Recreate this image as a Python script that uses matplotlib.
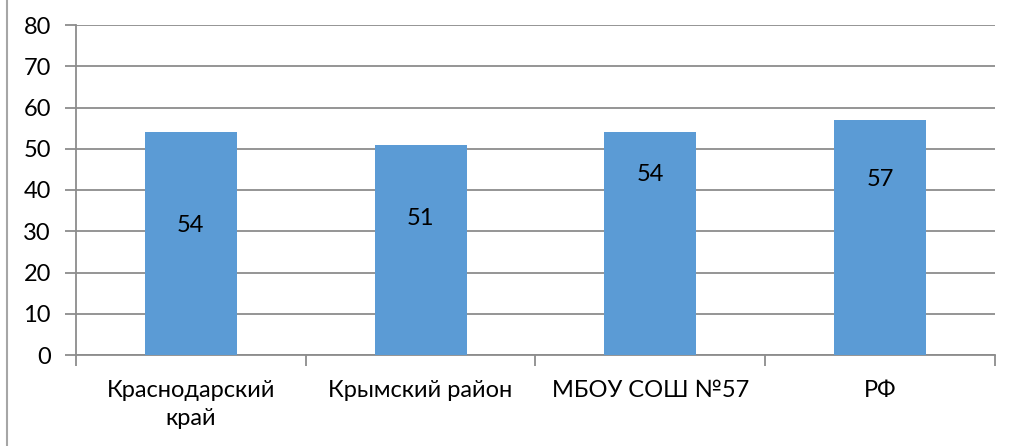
import numpy as np
import matplotlib.pyplot as plt
from matplotlib.lines import Line2D

categories = ['Краснодарский\nкрай', 'Крымский район', 'МБОУ СОШ №57', 'РФ']
values = [54, 51, 54, 57]
# where the data labels sit (in y units)
label_y = [31.5, 33.2, 43.8, 42.6]

plt.rcParams['font.family'] = ['Lato', 'DejaVu Sans']

fig = plt.figure(figsize=(10.12, 4.46), dpi=100)
ax = fig.add_axes([76/1012, 91/446, 919/1012, 330/446])

x = np.arange(len(categories))
ax.bar(x, values, width=0.4, color='#5B9BD5', zorder=3)
for xi, ly, v in zip(x, label_y, values):
    ax.text(xi, ly, str(v), ha='center', va='center', fontsize=17, color='black', zorder=4)

ax.set_xlim(-0.5, len(categories) - 0.5)
ax.set_ylim(0, 80)
ax.set_yticks(range(0, 81, 10))
ax.yaxis.grid(True, color='#8c8c8c', linewidth=1.3, zorder=0)

ax.set_xticks(x)
ax.set_xticklabels(categories, fontsize=17, linespacing=1.4)
ax.set_xticks(np.arange(-0.5, len(categories), 1), minor=True)
ax.tick_params(axis='x', which='major', length=0, pad=18)
ax.tick_params(axis='x', which='minor', length=8, width=1.3, color='#8c8c8c')
ax.tick_params(axis='y', length=8, width=1.3, color='#8c8c8c', labelsize=17, pad=10)

for s in ['top', 'right']:
    ax.spines[s].set_visible(False)
ax.spines['left'].set_color('#8c8c8c')
ax.spines['bottom'].set_color('#8c8c8c')
ax.spines['left'].set_linewidth(1.3)
ax.spines['bottom'].set_linewidth(1.3)

fig.add_artist(Line2D([7/1012, 7/1012], [0, 1], color='#a6a6a6', linewidth=1.5))

fig.savefig('out.png', dpi=100)
